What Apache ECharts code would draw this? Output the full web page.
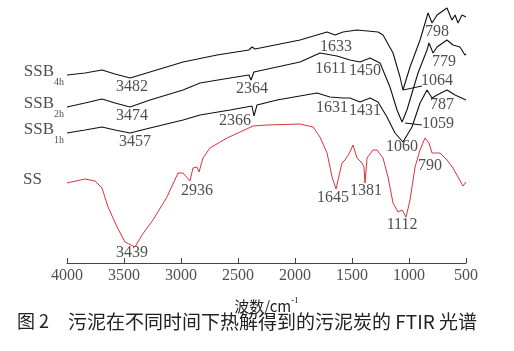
<!DOCTYPE html>
<html>
<head>
<meta charset="utf-8">
<script src="https://cdn.jsdelivr.net/npm/echarts@6/dist/echarts.min.js"></script>
<style>
  html, body { margin: 0; padding: 0; background: #fff; }
  #ftir { width: 514px; height: 351px; }
</style>
</head>
<body>
<div id="ftir"></div>
<script>
var xTicks = [4000, 3500, 3000, 2500, 2000, 1500, 1000, 500];

// wavenumber (cm-1) / relative transmittance
var ssb4hWn = [4000, 3842, 3693, 3579, 3447, 3272, 2982, 2684, 2404, 2377, 2351, 1956, 1719, 1649, 1579, 1456, 1272, 1228, 1140, 1079, 1053, 991, 903, 833, 798, 754, 667, 623, 596, 570, 535, 500];
var ssb4hT = [75.2, 76.0, 77.2, 75.6, 74.0, 76.4, 80.4, 83.2, 85.2, 86.4, 85.6, 89.2, 92.4, 91.2, 92.4, 93.2, 92.4, 91.2, 84.0, 74.4, 69.2, 78.4, 89.2, 100.0, 96.0, 99.2, 102.0, 97.2, 99.2, 96.0, 99.2, 98.4];

var ssb2hWn = [4000, 3842, 3693, 3579, 3447, 3272, 2982, 2833, 2570, 2404, 2386, 2360, 1956, 1781, 1632, 1518, 1430, 1342, 1254, 1167, 1105, 1061, 1018, 921, 842, 825, 789, 754, 667, 614, 553, 509, 500];
var ssb2hT = [62.4, 64.0, 65.6, 64.0, 62.4, 65.2, 69.2, 72.0, 74.0, 75.2, 73.2, 76.4, 80.4, 84.0, 82.8, 81.2, 80.4, 82.0, 80.0, 70.4, 61.2, 56.4, 61.2, 76.0, 85.2, 88.0, 84.0, 86.4, 89.2, 87.2, 86.4, 83.2, 83.6];

var ssb1hWn = [4000, 3842, 3693, 3579, 3447, 3272, 2982, 2833, 2570, 2377, 2360, 2333, 2158, 1807, 1693, 1579, 1518, 1430, 1342, 1272, 1193, 1123, 1053, 974, 903, 842, 798, 754, 667, 596, 500];
var ssb1hT = [52.0, 53.2, 54.4, 53.2, 52.0, 54.0, 57.2, 59.2, 61.2, 62.8, 58.8, 63.2, 65.2, 68.0, 66.4, 66.0, 66.0, 64.4, 66.0, 64.4, 58.4, 52.0, 48.4, 54.4, 64.0, 69.2, 66.0, 67.2, 69.2, 67.2, 65.2];

var ssWn = [4000, 3842, 3754, 3693, 3640, 3561, 3491, 3404, 3342, 3246, 3123, 3026, 2982, 2921, 2895, 2860, 2842, 2807, 2746, 2596, 2482, 2368, 2246, 1956, 1842, 1781, 1719, 1675, 1640, 1588, 1561, 1518, 1491, 1456, 1412, 1395, 1386, 1368, 1316, 1281, 1228, 1184, 1140, 1096, 1061, 1026, 991, 947, 903, 860, 825, 798, 728, 667, 614, 570, 526, 500];
var ssT = [32.0, 33.6, 32.8, 30.0, 22.4, 14.4, 8.4, 6.4, 11.2, 17.2, 26.4, 36.0, 36.0, 32.8, 38.0, 38.4, 36.4, 42.0, 46.0, 50.0, 52.4, 54.8, 55.2, 55.6, 54.4, 50.4, 44.0, 34.4, 29.6, 40.0, 41.2, 44.4, 47.2, 42.0, 40.0, 38.4, 32.0, 42.0, 45.2, 45.2, 42.0, 34.4, 24.0, 20.4, 21.2, 18.4, 25.2, 38.4, 45.2, 50.0, 48.0, 44.0, 44.0, 41.2, 38.0, 34.4, 30.8, 32.4];

// peak labels: text and where its centre sits (wavenumber, transmittance)
var peakText = ['3482', '3474', '3457', '2364', '2366', '1633', '1611', '1450', '1631', '1431', '1060', '798', '779', '1064', '787', '1059', '2936', '3439', '1645', '1381', '1112', '790'];
var peakWn = [3430, 3430, 3403, 2377, 2526, 1640, 1684, 1386, 1675, 1386, 1061, 754, 693, 754, 711, 746, 2860, 3430, 1667, 1377, 1061, 816];
var peakT = [70.4, 58.8, 48.4, 69.6, 56.8, 86.4, 77.6, 76.8, 62.0, 60.8, 46.4, 92.4, 80.4, 72.8, 63.2, 55.6, 28.8, 4.0, 26.0, 28.8, 15.2, 38.8];

var seriesNames = ['SSB4h', 'SSB2h', 'SSB1h', 'SS'];
var seriesMain = ['SSB', 'SSB', 'SSB', 'SS'];
var seriesSub = ['4h', '2h', '1h', ''];

var serif = 'Liberation Serif';

function zip(a, b) {
  return a.map(function (v, i) { return [v, b[i]]; });
}

var lineData = [[ssb4hWn, ssb4hT], [ssb2hWn, ssb2hT], [ssb1hWn, ssb1hT], [ssWn, ssT]];
var lineColor = ['#111', '#111', '#111', '#e0313b'];

var series = lineData.map(function (d, i) {
  return {
    name: seriesNames[i],
    type: 'line',
    data: zip(d[0], d[1]),
    showSymbol: false,
    silent: true,
    lineStyle: { color: lineColor[i], width: i === 3 ? 1 : 1.1 }
  };
});

// leader lines for 1064 and 1059
series[0].markLine = {
  symbol: ['none', 'none'],
  silent: true,
  label: { show: false },
  lineStyle: { color: '#111', type: 'solid', width: 1 },
  data: [
    [{ coord: [1053, 69.2] }, { coord: [886, 70.8] }],
    [{ coord: [1035, 56.0] }, { coord: [886, 55.2] }]
  ]
};

// series names at the start of each curve (SS sits flush left with the others)
series.push({
  name: 'names',
  type: 'scatter',
  symbolSize: 0,
  silent: true,
  data: lineData.map(function (d, i) {
    var item = { value: [d[0][0], d[1][0], i] };
    if (!seriesSub[i]) item.label = { padding: [0, 22, 0, 0] };
    return item;
  }),
  label: {
    show: true,
    position: 'left',
    distance: 3,
    formatter: function (p) {
      var i = p.value[2];
      return seriesSub[i] ? '{m|' + seriesMain[i] + '}{s|' + seriesSub[i] + '}' : '{m|' + seriesMain[i] + '}';
    },
    rich: {
      m: { fontFamily: serif, fontSize: 17, color: '#222', lineHeight: 24, verticalAlign: 'top', padding: [0, 0, 6, 0] },
      s: { fontFamily: serif, fontSize: 10, color: '#222', lineHeight: 24, verticalAlign: 'bottom', padding: [8, 0, 0, 0] }
    }
  }
});

series.push({
  name: 'peaks',
  type: 'scatter',
  symbolSize: 0,
  silent: true,
  data: peakText.map(function (txt, i) { return [peakWn[i], peakT[i], txt]; }),
  label: {
    show: true,
    position: 'inside',
    formatter: function (p) { return p.value[2]; },
    fontFamily: serif,
    fontSize: 16,
    color: '#222'
  }
});

// tick labels drawn under the axis line so they can use the serif face
series.push({
  name: 'ticks',
  type: 'scatter',
  symbolSize: 0,
  silent: true,
  clip: false,
  data: xTicks.map(function (t) { return [t, 0]; }),
  label: {
    show: true,
    position: 'bottom',
    distance: 5,
    formatter: function (p) { return String(p.value[0]); },
    fontFamily: serif,
    fontSize: 16,
    color: '#222'
  }
});

var chart = echarts.init(document.getElementById('ftir'));
chart.setOption({
  animation: false,
  backgroundColor: '#fff',
  textStyle: { fontFamily: serif },
  grid: { left: 67, right: 48, top: 3, bottom: 88 },
  xAxis: {
    type: 'value',
    inverse: true,
    min: 500,
    max: 4000,
    interval: 500,
    name: '{a|波数/cm}{b|-1}',
    nameLocation: 'middle',
    nameGap: 33,
    nameTextStyle: {
      rich: {
        a: { fontFamily: 'Noto Sans CJK SC', fontSize: 15, color: '#222', verticalAlign: 'bottom', lineHeight: 18 },
        b: { fontFamily: serif, fontSize: 9, color: '#222', verticalAlign: 'top', lineHeight: 18 }
      }
    },
    axisLine: { lineStyle: { color: '#444', width: 1 } },
    axisTick: { inside: true, length: 5, lineStyle: { color: '#444' } },
    axisLabel: { show: false },
    splitLine: { show: false }
  },
  yAxis: {
    type: 'value',
    min: 0,
    max: 104,
    show: false
  },
  graphic: [
    {
      type: 'text',
      left: 17,
      top: 312,
      style: { text: '图 2', font: '18px "Noto Sans CJK SC"', fill: '#222' }
    },
    {
      type: 'text',
      left: 68,
      top: 312,
      style: { text: '污泥在不同时间下热解得到的污泥炭的 FTIR 光谱', font: '19px "Noto Sans CJK SC"', fill: '#222' }
    }
  ],
  series: series
});
</script>
</body>
</html>
